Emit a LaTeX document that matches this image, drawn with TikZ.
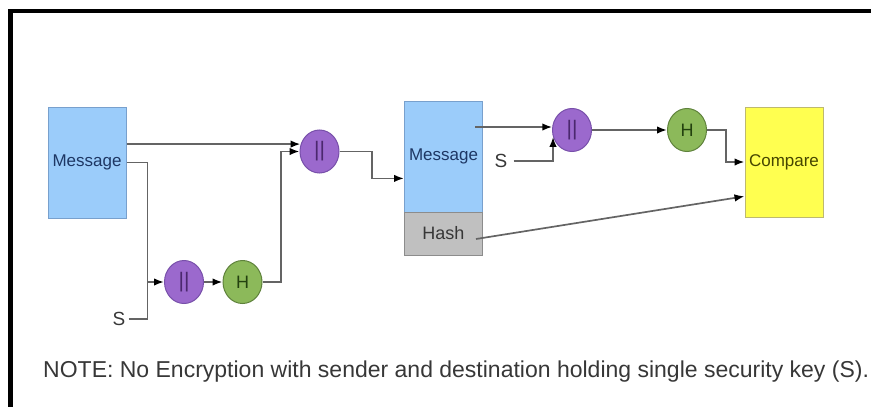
\documentclass[tikz,border=0pt]{standalone}
\usepackage{fontspec}
\setmainfont{Liberation Sans}
\usetikzlibrary{shapes.geometric,arrows.meta,calc}

\definecolor{msgblue}{RGB}{155,204,250}
\definecolor{msgedge}{RGB}{120,160,205}
\definecolor{msgtext}{RGB}{30,55,100}
\definecolor{hashgray}{RGB}{192,192,192}
\definecolor{hashedge}{RGB}{140,140,140}
\definecolor{cmpyellow}{RGB}{255,255,80}
\definecolor{cmpedge}{RGB}{190,185,110}
\definecolor{cmptext}{RGB}{70,70,0}
\definecolor{oppurple}{RGB}{155,105,205}
\definecolor{opedge}{RGB}{120,80,170}
\definecolor{optext}{RGB}{75,40,110}
\definecolor{hgreen}{RGB}{140,185,90}
\definecolor{hedge}{RGB}{95,130,60}
\definecolor{htext}{RGB}{35,65,15}
\definecolor{wiregray}{RGB}{100,100,100}
\definecolor{notegray}{RGB}{55,55,55}

\begin{document}
\begin{tikzpicture}[x=1pt,y=-1pt,
  >={Latex[length=10pt,width=7.5pt,color=black]},
  wire/.style={draw=wiregray,line width=1.7pt},
  msgbox/.style={rectangle,draw=msgedge,fill=msgblue,line width=1pt,inner sep=0pt,
    minimum width=78pt,minimum height=111pt,text=msgtext,font=\fontsize{17}{17}\selectfont},
  hashbox/.style={rectangle,draw=hashedge,fill=hashgray,line width=1pt,inner sep=0pt,
    minimum width=78pt,minimum height=43pt,text=notegray,font=\fontsize{18}{18}\selectfont},
  cmpbox/.style={rectangle,draw=cmpedge,fill=cmpyellow,line width=1pt,inner sep=0pt,
    minimum width=78pt,minimum height=110pt,text=cmptext,font=\fontsize{17}{17}\selectfont},
  catop/.style={ellipse,draw=opedge,fill=oppurple,line width=1pt,inner sep=0pt,
    minimum width=39pt,minimum height=43pt,text=optext,font=\fontsize{21}{21}\selectfont},
  hashop/.style={ellipse,draw=hedge,fill=hgreen,line width=1pt,inner sep=0pt,
    minimum width=39pt,minimum height=43pt,text=htext,font=\fontsize{18}{18}\selectfont},
  key/.style={inner sep=3pt,text=notegray,font=\fontsize{19}{19}\selectfont},
  note/.style={inner sep=0pt,text=notegray,font=\fontsize{23}{23}\selectfont}]
\useasboundingbox (0,0) rectangle (871,407);
\draw[line width=4.5pt] (10.5,407) -- (10.5,11) -- (871,11);

\node[msgbox] (m1) at (87,162.5) {Message};
\node[msgbox] (m2) at (443.5,156.5) {Message};
\node[hashbox] (hash) at (443.5,233.5) {Hash};
\node[cmpbox] (cmp) at (784,162) {Compare};

\node[catop] (cat1) at (319.5,151.5) {||};
\node[catop] (cat2) at (184,282) {||};
\node[hashop] (h2) at (242.5,282) {H};
\node[catop] (cat3) at (572,130) {||};
\node[hashop] (h3) at (687,130) {H};

\node[key] (s1) at (119,319) {S};
\node[key,inner xsep=6pt] (s2) at (501,161) {S};

\node[note,anchor=base west] (note) at (43,377) {NOTE: No Encryption with sender and destination holding single security key (S).};

% sender side
\coordinate (j1) at (147.5,282);
\draw[wire,->] (m1.25) -- (m1.25 -| cat1.160);
\draw[wire,->] (m1.east) -| (j1) -- (cat2.west);
\draw[wire] (s1.east) -| (j1);
\draw[wire,->] (cat2) -- (h2);
\draw[wire,->] (h2.east) -| ($(h2.east)!.5!(cat1.west)$) |- (cat1.west);
\draw[wire,->] (cat1.east) -| ($(cat1.east)!.5!(m2.209)$) |- (m2.209);

% receiver side
\coordinate (m2out) at (475,127);
\coordinate (hashout) at (476,239);
\draw[wire,->] (m2out) -- (m2out -| cat3.170);
\draw[wire,->] (s2.east) -| (cat3.200);
\draw[wire,->] (cat3) -- (h3);
\draw[wire,->] (h3.east) -| ($(h3.east)!.5!(cmp.west)$) |- (cmp.west);
\draw[wire,->] (hashout) -- (cmp.221);
\end{tikzpicture}
\end{document}
